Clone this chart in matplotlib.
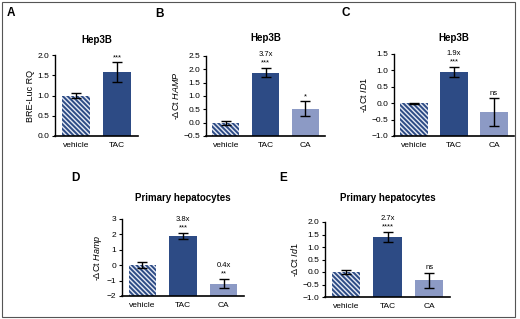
import matplotlib
matplotlib.use('Agg')
from matplotlib import pyplot as plt
from matplotlib.patches import Rectangle

plt.rcParams['font.family'] = ['Liberation Sans', 'DejaVu Sans']
plt.rcParams['mathtext.fontset'] = 'custom'
plt.rcParams['mathtext.rm'] = 'Liberation Sans'
plt.rcParams['mathtext.it'] = 'Liberation Sans:italic'
plt.rcParams['hatch.linewidth'] = 1.4

NAVY = '#2d4b85'
LAV = '#8c9ac5'

# panel data
a_cats = ['vehicle', 'TAC']
a_vals = [1.0, 1.58]
a_err = [0.07, 0.24]
a_stars = ['', '***']
a_fold = ['', '']

b_cats = ['vehicle', 'TAC', 'CA']
b_vals = [0.0, 1.88, 0.53]
b_err = [0.08, 0.17, 0.27]
b_stars = ['', '***', '*']
b_fold = ['', '3.7x', '']

c_cats = ['vehicle', 'TAC', 'CA']
c_vals = [0.0, 0.95, -0.28]
c_err = [0.02, 0.16, 0.43]
c_stars = ['', '***', 'ns']
c_fold = ['', '1.9x', '']

d_cats = ['vehicle', 'TAC', 'CA']
d_vals = [0.0, 1.9, -1.2]
d_err = [0.2, 0.18, 0.3]
d_stars = ['', '***', '**']
d_fold = ['', '3.8x', '0.4x']

e_cats = ['vehicle', 'TAC', 'CA']
e_vals = [0.0, 1.4, -0.33]
e_err = [0.08, 0.2, 0.3]
e_stars = ['', '****', 'ns']
e_fold = ['', '2.7x', '']

W, H = 520, 319
fig = plt.figure(figsize=(W / 100, H / 100), dpi=100)


def px_axes(l, r, t, b):
    return fig.add_axes([l / W, 1 - b / H, (r - l) / W, (b - t) / H])


def panel(box, cats, vals, err, stars, fold, ylim, yticks, ylabel, title, title_y):
    ax = px_axes(*box)
    x = list(range(len(cats)))
    base = ylim[0]
    heights = [v - base for v in vals]
    colors = ['#e4e9f4', NAVY, LAV][:len(cats)]
    bars = ax.bar(x, heights, bottom=base, width=0.68, color=colors,
                  edgecolor='none', zorder=1)
    bars[0].set_edgecolor(NAVY)
    bars[0].set_hatch('\\\\\\\\\\\\\\')
    bars[0].set_linewidth(0)
    ax.errorbar(x, vals, yerr=err, fmt='none', ecolor='black', elinewidth=1,
                capsize=3.5, capthick=1, zorder=3)
    for i in x:
        top = vals[i] + err[i]
        if stars[i]:
            ax.annotate(stars[i], (i, top), xytext=(0, 1), textcoords='offset points',
                        ha='center', va='bottom', fontsize=5.5)
        if fold[i]:
            ax.annotate(fold[i], (i, top), xytext=(0, 7), textcoords='offset points',
                        ha='center', va='bottom', fontsize=5.5)
    ax.set_xlim(-0.5, len(cats) - 0.5)
    ax.set_ylim(*ylim)
    ax.set_yticks(yticks)
    ax.set_xticks(x)
    ax.set_xticklabels(cats)
    ax.spines['top'].set_visible(False)
    ax.spines['right'].set_visible(False)
    ax.spines['left'].set_linewidth(1)
    ax.spines['bottom'].set_linewidth(1.2)
    ax.tick_params(axis='y', length=2.5, width=0.8, labelsize=6, pad=1.5)
    ax.tick_params(axis='x', length=0, labelsize=6, pad=4)
    ax.set_ylabel(ylabel, fontsize=6.5, labelpad=2)
    cx = (box[0] + box[1]) / 2
    fig.text(cx / W, 1 - title_y / H, title, ha='center', va='center',
             fontsize=7, fontweight='bold')
    return ax


panel((55, 138, 55, 136), a_cats, a_vals, a_err, a_stars, a_fold,
      (0, 2.0), [0.0, 0.5, 1.0, 1.5, 2.0], 'BRE-Luc RQ', 'Hep3B', 40)
panel((206, 325, 56, 136), b_cats, b_vals, b_err, b_stars, b_fold,
      (-0.5, 2.5), [-0.5, 0.0, 0.5, 1.0, 1.5, 2.0, 2.5],
      r'-ΔCt $\it{HAMP}$', 'Hep3B', 38)
panel((394, 514, 54, 136), c_cats, c_vals, c_err, c_stars, c_fold,
      (-1.0, 1.5), [-1.0, -0.5, 0.0, 0.5, 1.0, 1.5],
      r'-ΔCt $\it{ID1}$', 'Hep3B', 38)
panel((122, 244, 219, 296), d_cats, d_vals, d_err, d_stars, d_fold,
      (-2, 3), [-2, -1, 0, 1, 2, 3], r'-ΔCt $\it{Hamp}$', 'Primary hepatocytes', 198)
panel((325, 450, 222, 297), e_cats, e_vals, e_err, e_stars, e_fold,
      (-1.0, 2.0), [-1.0, -0.5, 0.0, 0.5, 1.0, 1.5, 2.0],
      r'-ΔCt $\it{Id1}$', 'Primary hepatocytes', 198)

for letter, lx, ly in [('A', 11, 13), ('B', 159, 14), ('C', 346, 13),
                       ('D', 75, 178), ('E', 283, 178)]:
    fig.text(lx / W, 1 - ly / H, letter, ha='center', va='center',
             fontsize=8.5, fontweight='bold')

fig.patches.append(Rectangle((2 / W, 2 / H), 513 / W, 315 / H, transform=fig.transFigure,
                             fill=False, edgecolor='#555555', linewidth=0.8))

plt.savefig('out.png', dpi=100)
